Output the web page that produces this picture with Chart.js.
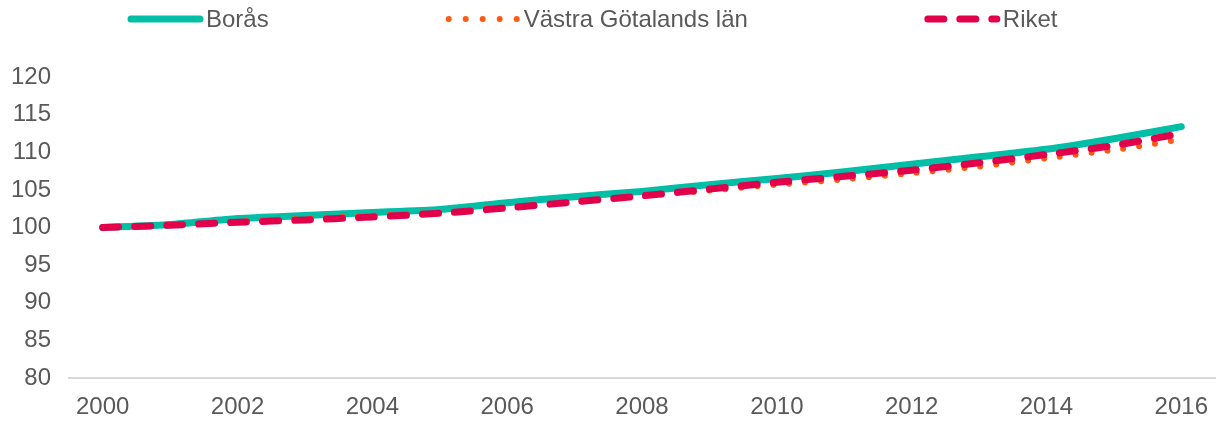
<!DOCTYPE html>
<html>
<head>
<meta charset="utf-8">
<script src="https://cdn.jsdelivr.net/npm/chart.js@4/dist/chart.umd.min.js"></script>
<style>
  html, body { margin: 0; padding: 0; background: #fff; }
  #wrap { width: 1221px; height: 421px; }
</style>
</head>
<body>
<div id="wrap"><canvas id="befChart"></canvas></div>
<script>
// Befolkningsutveckling, index 2000 = 100

const years = ['2000', '2001', '2002', '2003', '2004', '2005', '2006', '2007', '2008',
               '2009', '2010', '2011', '2012', '2013', '2014', '2015', '2016'];

const boras  = [100, 100.4, 101.2, 101.6, 102.0, 102.4, 103.3, 104.1, 104.8,
                105.7, 106.5, 107.4, 108.4, 109.4, 110.4, 111.8, 113.4];
const vgLan  = [100, 100.3, 100.8, 101.2, 101.6, 102.0, 102.7, 103.4, 104.2,
                104.9, 105.7, 106.4, 107.2, 108.1, 109.2, 110.3, 111.7];
const riket  = [100, 100.3, 100.7, 101.0, 101.4, 101.9, 102.6, 103.4, 104.2,
                105.1, 106.0, 106.8, 107.6, 108.6, 109.7, 110.9, 112.5];

const yTicks = [80, 85, 90, 95, 100, 105, 110, 115, 120];

const textColor = '#595959';
const fontFamily = '"Liberation Sans", Arial, sans-serif';
const fontSize = 24;

// egen legend: Chart.js-legendens padding styr även höjden, så vi ritar den själva
const legendPlugin = {
    id: 'egenLegend',
    afterDraw(chart) {
        const ctx = chart.ctx;
        const sampleW = 74;
        const gapText = 4;
        const gapItem = 177;
        const y = 19;
        ctx.save();
        ctx.font = fontSize + 'px ' + fontFamily;
        ctx.textBaseline = 'middle';
        let x = 128;
        chart.data.datasets.forEach(ds => {
            ctx.beginPath();
            ctx.strokeStyle = ds.borderColor;
            ctx.lineWidth = ds.borderWidth;
            ctx.lineCap = 'round';
            ctx.setLineDash(ds.legendDash || ds.borderDash || []);
            ctx.moveTo(x + 3, y);
            ctx.lineTo(x + sampleW - 2, y);
            ctx.stroke();
            ctx.setLineDash([]);
            ctx.fillStyle = textColor;
            ctx.fillText(ds.label, x + sampleW + gapText, y + 1);
            x += sampleW + gapText + ctx.measureText(ds.label).width + gapItem;
        });
        ctx.restore();
    }
};

function ritaDiagram() {
    const ctx = document.getElementById('befChart').getContext('2d');

    new Chart(ctx, {
        type: 'line',
        data: {
            labels: years,
            datasets: [{
                label: 'Borås',
                data: boras,
                borderColor: '#00BFA6',
                borderWidth: 7,
                borderCapStyle: 'round',
                tension: 0.2,
                order: 2
            }, {
                label: 'Västra Götalands län',
                data: vgLan,
                borderColor: '#FF5A14',
                borderWidth: 6,
                borderDash: [0, 16],
                legendDash: [0, 17],
                borderCapStyle: 'round',
                tension: 0.2,
                order: 1
            }, {
                label: 'Riket',
                data: riket,
                borderColor: '#E2004B',
                borderWidth: 7,
                borderDash: [16, 16],
                borderCapStyle: 'round',
                tension: 0.2,
                order: 0
            }]
        },
        options: {
            responsive: true,
            maintainAspectRatio: false,
            animation: false,
            elements: { point: { radius: 0 } },
            layout: { padding: { top: 77, left: 0, right: 6, bottom: 0 } },
            plugins: {
                legend: { display: false },
                tooltip: { enabled: false }
            },
            scales: {
                x: {
                    offset: true,
                    grid: { display: false },
                    border: { color: '#D9D9D9', width: 2 },
                    afterFit: axis => { axis.height = 43; },
                    ticks: {
                        autoSkip: false,
                        maxRotation: 0,
                        padding: 7,
                        color: textColor,
                        font: { family: fontFamily, size: fontSize },
                        callback: function (v, i) { return i % 2 === 0 ? years[i] : ''; }
                    }
                },
                y: {
                    min: yTicks[0],
                    max: yTicks[yTicks.length - 1],
                    afterBuildTicks: axis => { axis.ticks = yTicks.map(v => ({ value: v })); },
                    afterFit: axis => { axis.width = 69; },
                    grid: { display: false },
                    border: { display: false },
                    ticks: {
                        padding: 10,
                        color: textColor,
                        font: { family: fontFamily, size: fontSize }
                    }
                }
            }
        },
        plugins: [legendPlugin]
    });
}

window.onload = ritaDiagram;
</script>
</body>
</html>
